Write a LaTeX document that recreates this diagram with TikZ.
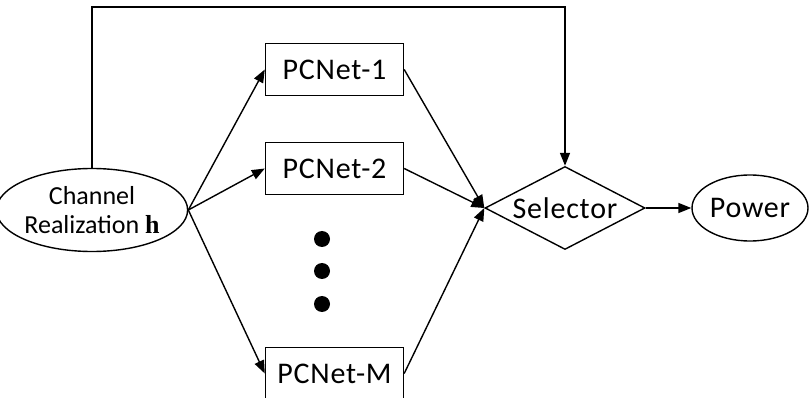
\documentclass[tikz,border=0pt]{standalone}
\usepackage{fontspec}
\setmainfont{Carlito}
\newfontfamily\labelfont{Carlito}[LetterSpace=2.6]
\newfontfamily\boldserif{Liberation Serif}
\usetikzlibrary{shapes.geometric,arrows.meta}

\tikzset{
  netbox/.style={draw, line width=1.4pt, minimum width=138pt, minimum height=52pt, inner sep=0pt,
    font=\labelfont\fontsize{30}{34}\selectfont},
  oval/.style={draw, ellipse, line width=1.4pt, inner sep=0pt},
  conn/.style={line width=1.4pt, -{Triangle[length=13pt,width=10pt]}}
}

\begin{document}
\begin{tikzpicture}[x=1pt,y=-1pt,font=\fontsize{26}{29}\selectfont]
  \useasboundingbox (0,0) rectangle (809,398);

  % input and output
  \node[oval, minimum width=162pt, minimum height=83pt, align=center] (chan) at (92,210)
    {Channel\\Realization {\boldserif\bfseries h}};
  \node[oval, minimum width=116pt, minimum height=66pt,
        font=\labelfont\fontsize{30}{34}\selectfont] (power) at (750,208) {Power};

  % networks
  \node[netbox] (net1) at (334.5,69.5) {PCNet-1};
  \node[netbox] (net2) at (334.5,168.5) {PCNet-2};
  \node[netbox] (netm) at (334.5,373.5) {PCNet-M};

  % dots between the networks
  \fill (322,239) circle (8);
  \fill (322,271) circle (8);
  \fill (322,304) circle (8);

  % selector
  \node[draw, diamond, aspect=2, inner sep=0pt, line width=1.4pt,
        minimum width=160pt, minimum height=83pt,
        font=\labelfont\fontsize{30}{34}\selectfont] (sel) at (565,208) {Selector};

  % connectors
  \draw[conn] (chan.east) -- (net1.west);
  \draw[conn] (chan.east) -- (net2.west);
  \draw[conn] (chan.east) -- (netm.west);
  \draw[conn] (net1.east) -- (sel.west);
  \draw[conn] (net2.east) -- (sel.west);
  \draw[conn] (netm.east) -- (sel.west);
  \draw[conn] (chan.north) -- (chan.north |- 0,7) -| (sel.north);
  \draw[conn] (sel.east) -- (power.west);

\end{tikzpicture}
\end{document}
